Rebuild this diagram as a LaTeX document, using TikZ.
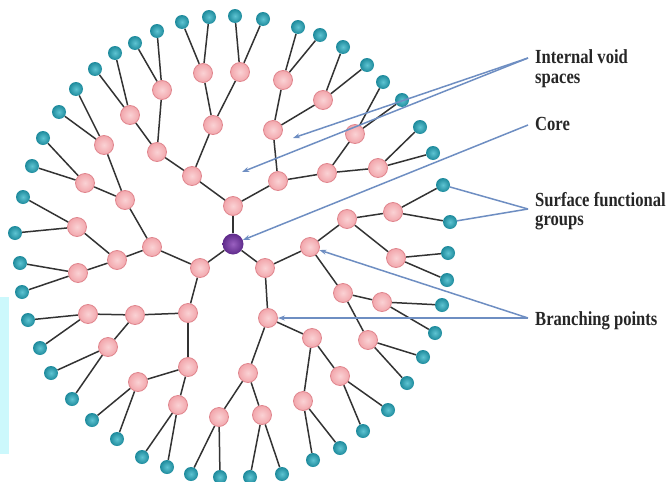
\documentclass[tikz,border=0pt]{standalone}
\usepackage{fontspec}
\setmainfont{Liberation Serif}
\usetikzlibrary{arrows.meta,backgrounds}
\definecolor{pinkin}{HTML}{FAD2D4}
\definecolor{pinkout}{HTML}{F2A6AC}
\definecolor{pinkedge}{HTML}{E0868E}
\definecolor{leafin}{HTML}{5EC4D2}
\definecolor{leafout}{HTML}{1E8A9C}
\definecolor{corein}{HTML}{9A60C0}
\definecolor{coreout}{HTML}{5E2A8A}
\definecolor{bondc}{HTML}{333333}
\definecolor{callc}{HTML}{6E8EC2}
\definecolor{bandc}{HTML}{CCF8FC}
\definecolor{txtc}{HTML}{262626}
\newcommand\lab[1]{\scalebox{0.83}[1]{#1}}
\tikzset{
  pinkn/.style={circle, draw=pinkedge, line width=0.8pt, inner color=pinkin, outer color=pinkout, minimum size=19pt, inner sep=0pt},
  leafn/.style={circle, inner color=leafin, outer color=leafout, minimum size=14pt, inner sep=0pt},
  coren/.style={circle, inner color=corein, outer color=coreout, minimum size=21pt, inner sep=0pt},
  bond/.style={draw=bondc, line width=1.5pt},
  callout/.style={draw=callc, line width=1.5pt},
  callarrow/.style={callout, -{Stealth[length=7pt,width=5pt]}},
  lbl/.style={anchor=base west, inner sep=0pt, text=txtc, font=\fontsize{20}{21}\selectfont\bfseries}
}
\begin{document}
\begin{tikzpicture}[x=1pt,y=-1pt]
\useasboundingbox (0,0) rectangle (667,482);
% core
\node[coren] (c) at (233,244) {};
% branching (pink) nodes
\foreach \n/\x/\y in {
  a/233/206, b/200/268, d/265/268,
  a1/192/176, a2/278/181, b1/152/247, b2/188/313, d1/310/247, d2/268/318,
  a11/157/152, a12/213/125, a21/273/130, a22/327/173,
  b11/125/200, b12/117/260, b21/135/315, b22/188/367,
  d11/347/219, d12/343/293, d21/312/338, d22/248/373,
  a111/130/115, a112/162/90, a121/203/73, a122/240/72,
  a211/283/80, a212/323/100, a221/355/134, a222/378/168,
  b111/104/145, b112/85/183, b121/77/227, b122/78/273,
  b211/88/314, b212/108/347, b221/138/382, b222/178/405,
  d111/393/212, d112/396/258, d121/382/302, d122/368/340,
  d211/340/376, d212/303/401, d221/262/415, d222/219/417}
  \node[pinkn] (\n) at (\x,\y) {};
% surface groups (leaves)
\foreach \n/\x/\y in {
  a111p/95/69, a111q/115/53, a112p/135/43, a112q/157/31,
  a121p/182/22, a121q/209/17, a122p/235/16, a122q/263/19,
  a211p/298/27, a211q/320/35, a212p/343/47, a212q/367/65,
  a221p/383/82, a221q/402/100, a222p/420/127, a222q/433/153,
  d111p/443/185, d111q/450/222, d112p/448/253, d112q/447/280,
  d121p/442/305, d121q/435/333, d122p/423/357, d122q/407/383,
  d211p/388/410, d211q/363/431, d212p/340/448, d212q/313/460,
  d221p/282/474, d221q/250/477, d222p/220/477, d222q/191/474,
  b222p/167/467, b222q/142/457, b221p/117/439, b221q/92/420,
  b212p/72/399, b212q/51/373, b211p/40/348, b211q/28/320,
  b122p/22/292, b122q/20/263, b121p/15/233, b121q/23/197,
  b112p/32/166, b112q/43/138, b111p/59/112, b111q/76/89}
  \node[leafn] (\n) at (\x,\y) {};
% bonds
\begin{scope}[on background layer]
  \fill[bandc] (0,297) rectangle (9,454);
  \foreach \p/\q in {c/a, c/b, c/d,
    a/a1, a/a2, b/b1, b/b2, d/d1, d/d2,
    a1/a11, a1/a12, a2/a21, a2/a22, b1/b11, b1/b12, b2/b21, b2/b22,
    d1/d11, d1/d12, d2/d21, d2/d22,
    a11/a111, a11/a112, a12/a121, a12/a122, a21/a211, a21/a212, a22/a221, a22/a222,
    b11/b111, b11/b112, b12/b121, b12/b122, b21/b211, b21/b212, b22/b221, b22/b222,
    d11/d111, d11/d112, d12/d121, d12/d122, d21/d211, d21/d212, d22/d221, d22/d222}
    \draw[bond] (\p) -- (\q);
  \foreach \g in {a111,a112,a121,a122,a211,a212,a221,a222,
                  b111,b112,b121,b122,b211,b212,b221,b222,
                  d111,d112,d121,d122,d211,d212,d221,d222}
    {\draw[bond] (\g) -- (\g p); \draw[bond] (\g) -- (\g q);}
\end{scope}
% callouts
\coordinate (iv) at (528,58);
\coordinate (iv1) at (293,138);
\coordinate (iv2) at (242,172);
\coordinate (cv) at (528,125);
\coordinate (sv) at (528,209);
\coordinate (bv) at (528,318);
\draw[callarrow] (iv) -- (iv1);
\draw[callarrow] (iv) -- (iv2);
\draw[callarrow] (cv) -- (c);
\draw[callout] (sv) -- (d111p);
\draw[callout] (sv) -- (d111q);
\draw[callarrow] (bv) -- (d1);
\draw[callarrow] (bv) -- (d2);
% labels
\node[lbl] (t1) at (535,63) {\lab{Internal void}};
\node[lbl] (t2) at (535,83) {\lab{spaces}};
\node[lbl] (t3) at (535,130) {\lab{Core}};
\node[lbl] (t4) at (535,206) {\lab{Surface functional}};
\node[lbl] (t5) at (535,225) {\lab{groups}};
\node[lbl] (t6) at (535,325) {\lab{Branching points}};
\end{tikzpicture}
\end{document}
